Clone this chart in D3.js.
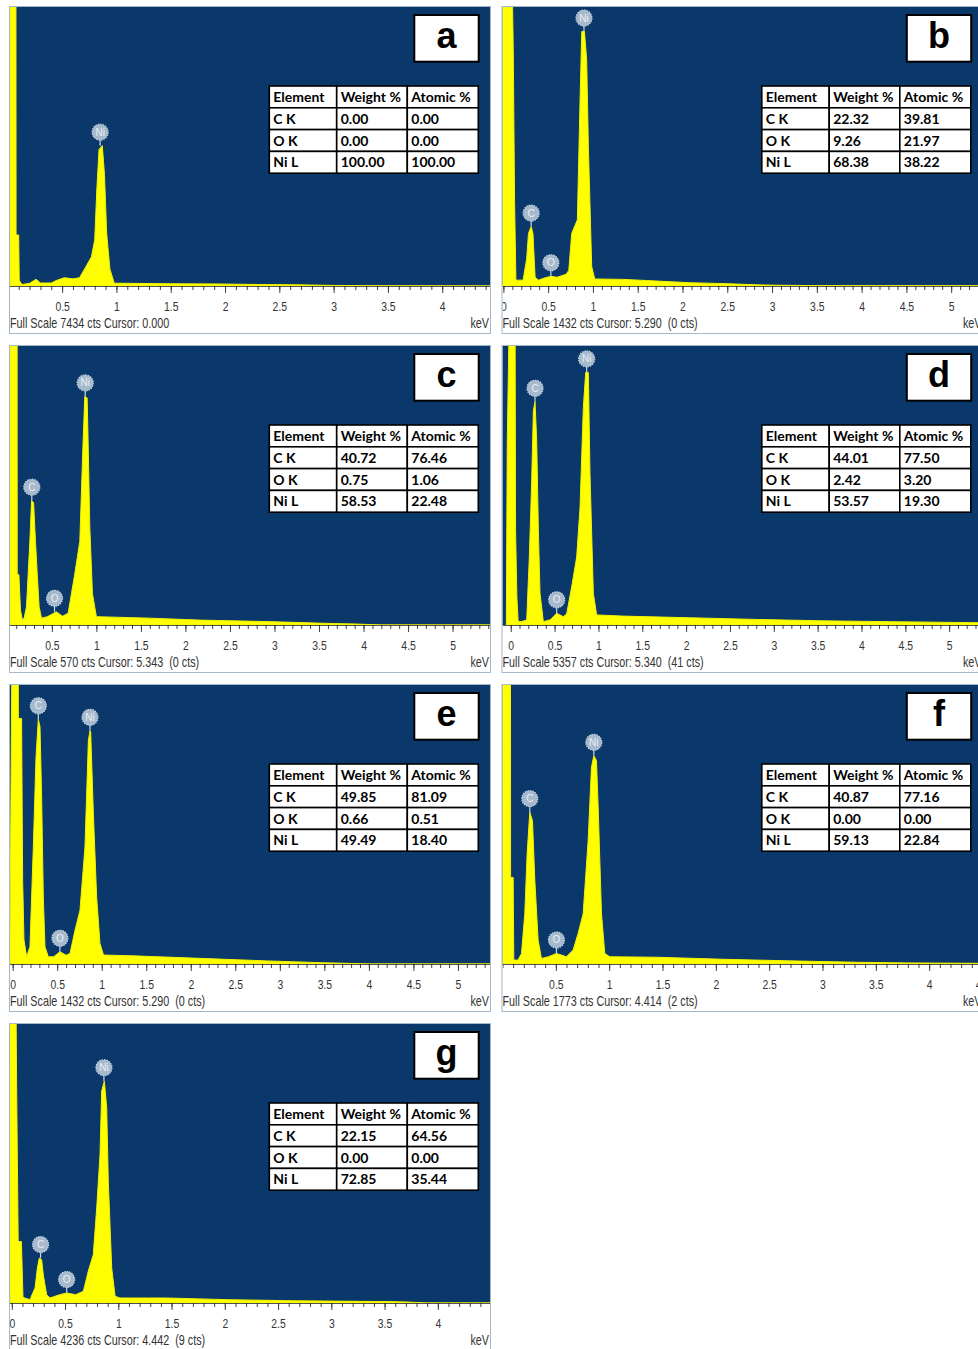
<!DOCTYPE html>
<html>
<head>
<meta charset="utf-8">
<script src="https://cdn.jsdelivr.net/npm/d3@7"></script>
<style>
  body { margin: 0; background: #fff; }
  svg text { white-space: pre; }
</style>
</head>
<body>
<script>
// EDS spectra, panels a..g
const panelIds = ["a", "b", "c", "d", "e", "f", "g"];
const fullScale = [7434, 1432, 570, 5357, 1432, 1773, 4236];
const cursorInfo = ["Cursor: 0.000", "Cursor: 5.290  (0 cts)", "Cursor: 5.343  (0 cts)",
  "Cursor: 5.340  (41 cts)", "Cursor: 5.290  (0 cts)", "Cursor: 4.414  (2 cts)", "Cursor: 4.442  (9 cts)"];
const keVRange = [[0.02, 4.44], [-0.01, 5.35], [0.03, 5.42], [-0.094, 5.38], [-0.03, 5.36], [0, 4.5], [-0.017, 4.49]];
const tickLabels = [
  [0.5, 1, 1.5, 2, 2.5, 3, 3.5, 4],
  [0, 0.5, 1, 1.5, 2, 2.5, 3, 3.5, 4, 4.5, 5],
  [0.5, 1, 1.5, 2, 2.5, 3, 3.5, 4, 4.5, 5],
  [0, 0.5, 1, 1.5, 2, 2.5, 3, 3.5, 4, 4.5, 5],
  [0, 0.5, 1, 1.5, 2, 2.5, 3, 3.5, 4, 4.5, 5],
  [0.5, 1, 1.5, 2, 2.5, 3, 3.5, 4, 4.5],
  [0, 0.5, 1, 1.5, 2, 2.5, 3, 3.5, 4]
];

// table values
const elements = ["C K", "O K", "Ni L"];
const weightCK  = ["0.00", "22.32", "40.72", "44.01", "49.85", "40.87", "22.15"];
const weightOK  = ["0.00", "9.26", "0.75", "2.42", "0.66", "0.00", "0.00"];
const weightNiL = ["100.00", "68.38", "58.53", "53.57", "49.49", "59.13", "72.85"];
const atomicCK  = ["0.00", "39.81", "76.46", "77.50", "81.09", "77.16", "64.56"];
const atomicOK  = ["0.00", "21.97", "1.06", "3.20", "0.51", "0.00", "0.00"];
const atomicNiL = ["100.00", "38.22", "22.48", "19.30", "18.40", "22.84", "35.44"];

// spectra [keV, counts]
const spectrumA = [[0.02,7800],[0.075,7800],[0.076,1360],[0.10,1360],[0.105,150],[0.13,40],[0.2,70],[0.26,180],[0.3,80],
  [0.4,80],[0.45,150],[0.52,220],[0.6,190],[0.66,220],[0.72,520],[0.77,780],[0.8,1230],[0.82,2600],[0.84,3640],
  [0.87,3740],[0.89,2970],[0.91,1410],[0.94,450],[0.98,75],[1.5,60],[1.9,55],[2.3,40],[2.7,30],[3.0,15],[3.5,5],[4.44,0]];
const spectrumB = [[-0.01,1500],[0.10,1500],[0.11,1220],[0.125,430],[0.14,30],[0.17,30],[0.22,30],[0.26,140],[0.28,270],
  [0.31,305],[0.33,270],[0.354,45],[0.39,30],[0.45,40],[0.53,50],[0.6,45],[0.7,60],[0.73,80],[0.763,270],[0.826,340],
  [0.856,955],[0.875,1306],[0.905,1306],[0.93,1160],[0.949,715],[0.986,100],[1.02,36],[1.34,34],[1.6,28],[2.08,17],
  [2.5,12],[2.83,6],[3.05,4],[3.5,2],[5.35,1]];
const spectrumC = [[0.03,600],[0.11,600],[0.111,103],[0.13,103],[0.148,30],[0.17,10],[0.19,15],[0.215,37],[0.253,171],
  [0.272,254],[0.295,250],[0.316,171],[0.335,107],[0.357,37],[0.384,14],[0.45,17],[0.55,27],[0.62,18],[0.683,24],
  [0.72,64],[0.758,105],[0.814,171],[0.851,376],[0.87,467],[0.896,464],[0.907,376],[0.926,200],[0.956,64],[1.0,17],
  [1.6,14],[2.16,10],[2.91,7],[3.66,3],[3.92,2],[4.2,0],[5.42,0]];
const spectrumD = [[-0.05,0],[-0.04,3480],[-0.02,5600],[0.05,5600],[0.055,1820],[0.07,540],[0.085,65],[0.12,65],
  [0.182,96],[0.212,1307],[0.239,2775],[0.258,4114],[0.277,4286],[0.296,3536],[0.315,1816],[0.334,605],[0.372,64],
  [0.45,100],[0.524,225],[0.6,160],[0.638,214],[0.695,734],[0.752,1307],[0.79,2250],[0.828,4178],[0.855,4850],
  [0.885,4850],[0.904,2893],[0.942,605],[0.98,193],[1.28,171],[2.04,139],[2.8,107],[3.56,80],[4.32,64],[5.38,43]];
const spectrumE = [[-0.03,143],[-0.01,1500],[0.063,1500],[0.064,1260],[0.1,1260],[0.112,430],[0.127,123],[0.157,37],
  [0.194,89],[0.232,601],[0.262,1060],[0.288,1256],[0.307,1217],[0.326,839],[0.344,344],[0.363,89],[0.4,37],[0.46,37],
  [0.531,63],[0.6,45],[0.644,54],[0.7,173],[0.756,276],[0.812,601],[0.85,1146],[0.868,1197],[0.876,1190],[0.906,773],
  [0.943,344],[0.98,106],[1.02,46],[1.35,42],[2.1,29],[2.85,16],[3.45,7],[3.71,4],[4.0,0],[5.36,0]];
const spectrumF = [[0.0,1850],[0.075,1850],[0.076,550],[0.1,550],[0.106,25],[0.146,25],[0.178,67],[0.209,319],[0.231,700],
  [0.256,965],[0.281,911],[0.303,532],[0.334,152],[0.365,35],[0.43,46],[0.506,67],[0.6,46],[0.662,89],[0.709,195],
  [0.756,319],[0.803,785],[0.834,1250],[0.856,1323],[0.881,1294],[0.897,993],[0.928,319],[0.959,67],[1.006,46],
  [1.44,43],[2.07,30],[2.69,20],[3.32,11],[3.79,7],[4.5,4]];
const spectrumG = [[-0.017,4450],[0.04,4450],[0.045,3346],[0.06,932],[0.09,932],[0.105,85],[0.17,51],[0.218,229],
  [0.24,530],[0.258,682],[0.28,656],[0.296,424],[0.327,127],[0.358,76],[0.45,127],[0.515,152],[0.6,127],[0.672,178],
  [0.718,483],[0.765,733],[0.797,1440],[0.828,2245],[0.844,3219],[0.869,3368],[0.891,2965],[0.906,1847],[0.938,530],
  [0.97,102],[1.016,76],[1.45,76],[2.02,51],[2.64,34],[3.55,21],[3.71,15],[3.9,0],[4.49,0]];
const spectra = [spectrumA, spectrumB, spectrumC, spectrumD, spectrumE, spectrumF, spectrumG];

// peak markers [element, keV, counts]
const peaksA = [["Ni", 0.85, 3740]];
const peaksB = [["C", 0.31, 305], ["O", 0.53, 50], ["Ni", 0.9, 1306]];
const peaksC = [["C", 0.275, 254], ["O", 0.53, 27], ["Ni", 0.875, 467]];
const peaksD = [["C", 0.277, 4286], ["O", 0.524, 225], ["Ni", 0.866, 4850]];
const peaksE = [["C", 0.288, 1256], ["O", 0.531, 63], ["Ni", 0.868, 1197]];
const peaksF = [["C", 0.256, 965], ["O", 0.506, 67], ["Ni", 0.856, 1323]];
const peaksG = [["C", 0.27, 682], ["O", 0.515, 152], ["Ni", 0.865, 3368]];
const peaks = [peaksA, peaksB, peaksC, peaksD, peaksE, peaksF, peaksG];

const W = 978, H = 1349;
const pw = 480, ph = 279, axisH = 47;
const narrow = 0.77;   // condensed look of the instrument font

const svg = d3.select("body").append("svg")
  .attr("width", W)
  .attr("height", H);

panelIds.forEach(function(id, i) {
  const x0 = i % 2 == 0 ? 10 : 502.5,
        y0 = 7 + Math.floor(i / 2) * 339;

  const g = svg.append("g").attr("transform", "translate(" + x0 + "," + y0 + ")");

  const x = d3.scaleLinear().domain(keVRange[i]).range([0, pw]);
  const y = d3.scaleLinear().domain([0, fullScale[i]]).range([ph, 0]);

  g.append("clipPath").attr("id", "clip" + id)
    .append("rect").attr("width", pw).attr("height", ph);
  g.append("clipPath").attr("id", "clipAll" + id)
    .append("rect").attr("width", pw).attr("height", ph + axisH);

  // background
  g.append("rect")
    .attr("width", pw).attr("height", ph + axisH)
    .attr("fill", "#fff");
  g.append("rect")
    .attr("width", pw).attr("height", ph)
    .attr("fill", "#0a386a");

  const area = d3.area()
    .x(function(d) { return x(d[0]); })
    .y0(y(0))
    .y1(function(d) { return y(d[1]); })
    .curve(d3.curveLinear);

  g.append("path")
    .datum(spectra[i])
    .attr("clip-path", "url(#clip" + id + ")")
    .attr("d", area)
    .attr("fill", "#ffff00")
    .attr("stroke", "#f2f200")
    .attr("stroke-width", 1);

  // peak markers
  const pk = g.append("g").attr("clip-path", "url(#clip" + id + ")");
  peaks[i].forEach(function(p) {
    const px = x(p[1]), py = y(p[2]);
    pk.append("line")
      .attr("x1", px).attr("x2", px)
      .attr("y1", py - 6).attr("y2", py)
      .attr("stroke", "#c9d6e3").attr("stroke-width", 1.2);
    pk.append("circle")
      .attr("cx", px).attr("cy", py - 13.5).attr("r", 8)
      .attr("fill", "#a7b9cd")
      .attr("stroke", "#c6d3e0").attr("stroke-width", 1.2)
      .attr("stroke-dasharray", "1.5,1");
    pk.append("text")
      .attr("x", px).attr("y", py - 10)
      .attr("text-anchor", "middle")
      .attr("font-family", "Liberation Sans, sans-serif")
      .attr("font-size", 10)
      .attr("fill", "#e9eff5")
      .text(p[0]);
  });

  // axis
  const minor = d3.range(Math.ceil(keVRange[i][0] * 10), Math.floor(keVRange[i][1] * 10) + 1)
    .map(function(v) { return v / 10; });
  const axG = g.append("g").attr("transform", "translate(0," + ph + ")")
    .attr("clip-path", "url(#clipAll" + id + ")");
  axG.append("g")
    .call(d3.axisBottom(x).tickValues(minor).tickSize(4).tickFormat(""))
    .call(function(a) { a.select(".domain").remove(); });
  axG.append("g")
    .call(d3.axisBottom(x).tickValues(tickLabels[i]).tickSize(7).tickPadding(8)
      .tickFormat(function(d) { return String(d); }))
    .call(function(a) {
      a.select(".domain").remove();
      a.selectAll("text")
        .attr("font-family", "Liberation Sans, Arial, sans-serif")
        .attr("font-size", 13.5)
        .attr("transform", "scale(" + narrow + ",1)")
        .attr("fill", "#333");
    });
  axG.selectAll(".tick line").attr("stroke", "#444");
  axG.append("line")
    .attr("x1", 0).attr("x2", pw)
    .attr("stroke", "#1a1a1a").attr("stroke-width", 1.5);

  // footer text
  const foot = g.append("g")
    .attr("clip-path", "url(#clipAll" + id + ")");
  foot.append("text")
    .attr("x", 0).attr("y", ph + 42.5)
    .attr("transform", "scale(" + narrow + ",1)")
    .attr("font-family", "Liberation Sans, Arial, sans-serif")
    .attr("font-size", 14)
    .attr("fill", "#333")
    .text("Full Scale " + fullScale[i] + " cts " + cursorInfo[i]);
  g.append("text")
    .attr("x", (pw - 1) / narrow).attr("y", ph + 42.5)
    .attr("transform", "scale(" + narrow + ",1)")
    .attr("text-anchor", "end")
    .attr("font-family", "Liberation Sans, Arial, sans-serif")
    .attr("font-size", 14)
    .attr("fill", "#333")
    .text("keV");

  // frame
  g.append("rect")
    .attr("x", -0.5).attr("y", -0.5)
    .attr("width", pw + 1).attr("height", ph + axisH + 1)
    .attr("fill", "none")
    .attr("stroke", "#a4b8cc").attr("stroke-width", 1);

  // letter box
  g.append("rect")
    .attr("x", 404.3).attr("y", 8)
    .attr("width", 64.4).attr("height", 46.7)
    .attr("fill", "#fff").attr("stroke", "#000").attr("stroke-width", 2);
  g.append("text")
    .attr("x", 436.5).attr("y", 40.5)
    .attr("text-anchor", "middle")
    .attr("font-family", "Liberation Sans, Arial, sans-serif")
    .attr("font-weight", "bold")
    .attr("font-size", 36)
    .text(id);

  // composition table
  const rows = [["Element", "Weight %", "Atomic %"],
    [elements[0], weightCK[i], atomicCK[i]],
    [elements[1], weightOK[i], atomicOK[i]],
    [elements[2], weightNiL[i], atomicNiL[i]]];
  const colX = [259.3, 326.7, 397.3, 468.3];
  const rowH = 21.8, tTop = 79;
  const tb = g.append("g");
  rows.forEach(function(r, ri) {
    r.forEach(function(cell, ci) {
      tb.append("rect")
        .attr("x", colX[ci]).attr("y", tTop + ri * rowH)
        .attr("width", colX[ci + 1] - colX[ci]).attr("height", rowH)
        .attr("fill", "#fff").attr("stroke", "#000").attr("stroke-width", 1.6);
      tb.append("text")
        .attr("x", colX[ci] + 4).attr("y", tTop + ri * rowH + 16)
        .attr("font-family", "Lato, Open Sans, sans-serif")
        .attr("font-weight", "bold")
        .attr("font-size", 14)
        .attr("fill", "#000")
        .text(cell);
    });
  });
});
</script>
</body>
</html>
